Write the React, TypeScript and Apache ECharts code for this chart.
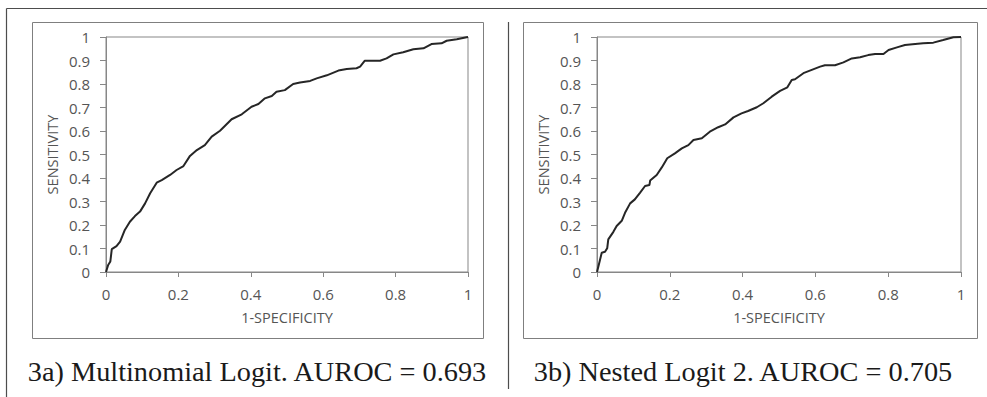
import React, { useEffect, useRef } from "react";
import * as echarts from "echarts";

const xTicksInterval = 0.2;
const yTicksInterval = 0.1;

const captionA = "3a) Multinomial Logit. AUROC = 0.693";
const captionB = "3b) Nested Logit 2. AUROC = 0.705";
const xAxisTitle = "1-SPECIFICITY";
const yAxisTitle = "SENSITIVITY";

const fprA = [0, 0.006, 0.012, 0.016, 0.029, 0.039, 0.052, 0.066, 0.08, 0.094, 0.108, 0.122, 0.14, 0.154, 0.177, 0.195, 0.214, 0.232, 0.251, 0.273, 0.292, 0.315, 0.347, 0.375, 0.402, 0.421, 0.439, 0.458, 0.471, 0.494, 0.517, 0.536, 0.564, 0.582, 0.61, 0.642, 0.665, 0.692, 0.702, 0.715, 0.757, 0.775, 0.794, 0.821, 0.849, 0.877, 0.899, 0.927, 0.941, 0.969, 0.996, 1];
const tprA = [0, 0.03, 0.045, 0.097, 0.11, 0.129, 0.179, 0.214, 0.238, 0.257, 0.292, 0.335, 0.38, 0.391, 0.413, 0.434, 0.451, 0.494, 0.519, 0.54, 0.576, 0.601, 0.65, 0.671, 0.703, 0.715, 0.739, 0.749, 0.767, 0.774, 0.8, 0.806, 0.813, 0.824, 0.837, 0.857, 0.864, 0.867, 0.874, 0.899, 0.899, 0.909, 0.926, 0.935, 0.948, 0.952, 0.97, 0.973, 0.984, 0.99, 0.999, 1];

const fprB = [0, 0.006, 0.013, 0.022, 0.028, 0.031, 0.045, 0.054, 0.068, 0.077, 0.091, 0.104, 0.118, 0.132, 0.144, 0.146, 0.164, 0.178, 0.193, 0.214, 0.233, 0.251, 0.265, 0.288, 0.31, 0.333, 0.352, 0.375, 0.397, 0.415, 0.439, 0.457, 0.48, 0.503, 0.523, 0.535, 0.544, 0.567, 0.59, 0.613, 0.626, 0.654, 0.677, 0.7, 0.723, 0.745, 0.764, 0.787, 0.801, 0.824, 0.846, 0.874, 0.896, 0.924, 0.951, 0.979, 1];
const tprB = [0, 0.037, 0.082, 0.086, 0.101, 0.139, 0.171, 0.196, 0.218, 0.252, 0.292, 0.309, 0.337, 0.366, 0.37, 0.389, 0.413, 0.445, 0.484, 0.505, 0.526, 0.54, 0.562, 0.569, 0.597, 0.616, 0.628, 0.658, 0.675, 0.685, 0.701, 0.718, 0.746, 0.771, 0.786, 0.817, 0.82, 0.846, 0.86, 0.874, 0.88, 0.88, 0.892, 0.909, 0.914, 0.923, 0.928, 0.928, 0.945, 0.956, 0.966, 0.97, 0.973, 0.976, 0.987, 0.999, 1];

const SANS = "Open Sans, Noto Sans, sans-serif";
const SERIF = "Liberation Serif, Times New Roman, serif";
const TEXT_GRAY = "#555555";
const AXIS_GRAY = "#878787";

function zip(xs: number[], ys: number[]) {
  return xs.map((x, i) => [x, ys[i]]);
}

function makeXAxis(gridIndex: number) {
  return {
    type: "value" as const,
    gridIndex,
    min: 0,
    max: 1,
    interval: xTicksInterval,
    name: xAxisTitle,
    nameLocation: "middle" as const,
    nameGap: 38,
    nameTextStyle: { color: TEXT_GRAY, fontFamily: SANS, fontSize: 14.5 },
    axisLine: { show: true, lineStyle: { color: AXIS_GRAY, width: 1 } },
    axisTick: { show: true, inside: false, length: 5, lineStyle: { color: AXIS_GRAY } },
    axisLabel: { color: TEXT_GRAY, fontFamily: SANS, fontSize: 15, margin: 14 },
    splitLine: { show: false },
  };
}

function makeYAxis(gridIndex: number) {
  return {
    type: "value" as const,
    gridIndex,
    min: 0,
    max: 1,
    interval: yTicksInterval,
    name: yAxisTitle,
    nameLocation: "middle" as const,
    nameGap: 46,
    nameTextStyle: { color: TEXT_GRAY, fontFamily: SANS, fontSize: 14.5 },
    axisLine: { show: true, lineStyle: { color: AXIS_GRAY, width: 1 } },
    axisTick: { show: true, inside: false, length: 6, lineStyle: { color: AXIS_GRAY } },
    axisLabel: { color: TEXT_GRAY, fontFamily: SANS, fontSize: 15, margin: 16 },
    splitLine: { show: false },
  };
}

export default function App() {
  const ref = useRef<HTMLDivElement>(null);
  useEffect(() => {
    if (!ref.current) return;
    const chart = echarts.init(ref.current, undefined, { renderer: "svg" });
    const frameColor = "#7f7f7f";
    const outerColor = "#4d4d4d";
    chart.setOption({
      animation: false,
      backgroundColor: "#ffffff",
      grid: [
        { left: 106, top: 37, width: 362, height: 235, show: true, borderColor: AXIS_GRAY, borderWidth: 1, backgroundColor: "transparent" },
        { left: 597, top: 37, width: 364, height: 235, show: true, borderColor: AXIS_GRAY, borderWidth: 1, backgroundColor: "transparent" },
      ],
      xAxis: [makeXAxis(0), makeXAxis(1)],
      yAxis: [makeYAxis(0), makeYAxis(1)],
      series: [
        {
          type: "line",
          xAxisIndex: 0,
          yAxisIndex: 0,
          data: zip(fprA, tprA),
          showSymbol: false,
          symbol: "none",
          lineStyle: { color: "#262626", width: 2 },
        },
        {
          type: "line",
          xAxisIndex: 1,
          yAxisIndex: 1,
          data: zip(fprB, tprB),
          showSymbol: false,
          symbol: "none",
          lineStyle: { color: "#262626", width: 2 },
        },
      ],
      graphic: [
        { type: "line", shape: { x1: 6.5, y1: 8.5, x2: 987, y2: 8.5 }, style: { stroke: outerColor, lineWidth: 1.2 } },
        { type: "line", shape: { x1: 6.5, y1: 8.5, x2: 6.5, y2: 397 }, style: { stroke: outerColor, lineWidth: 1.2 } },
        { type: "line", shape: { x1: 508.5, y1: 22, x2: 508.5, y2: 389 }, style: { stroke: outerColor, lineWidth: 1.2 } },
        { type: "rect", shape: { x: 32.5, y: 22.5, width: 451, height: 316 }, style: { fill: "none", stroke: frameColor, lineWidth: 1 }, z: -1 },
        { type: "rect", shape: { x: 523.5, y: 22.5, width: 454, height: 316 }, style: { fill: "none", stroke: frameColor, lineWidth: 1 }, z: -1 },
        {
          type: "text",
          x: 257,
          y: 371,
          style: { text: captionA, font: `28.3px ${SERIF}`, fill: "#1a1a1a", align: "center", verticalAlign: "middle" },
        },
        {
          type: "text",
          x: 743,
          y: 371,
          style: { text: captionB, font: `28.3px ${SERIF}`, fill: "#1a1a1a", align: "center", verticalAlign: "middle" },
        },
      ],
    });
    return () => chart.dispose();
  }, []);
  return <div ref={ref} style={{ position: "fixed", left: 0, top: 0, width: 987, height: 397 }} />;
}
